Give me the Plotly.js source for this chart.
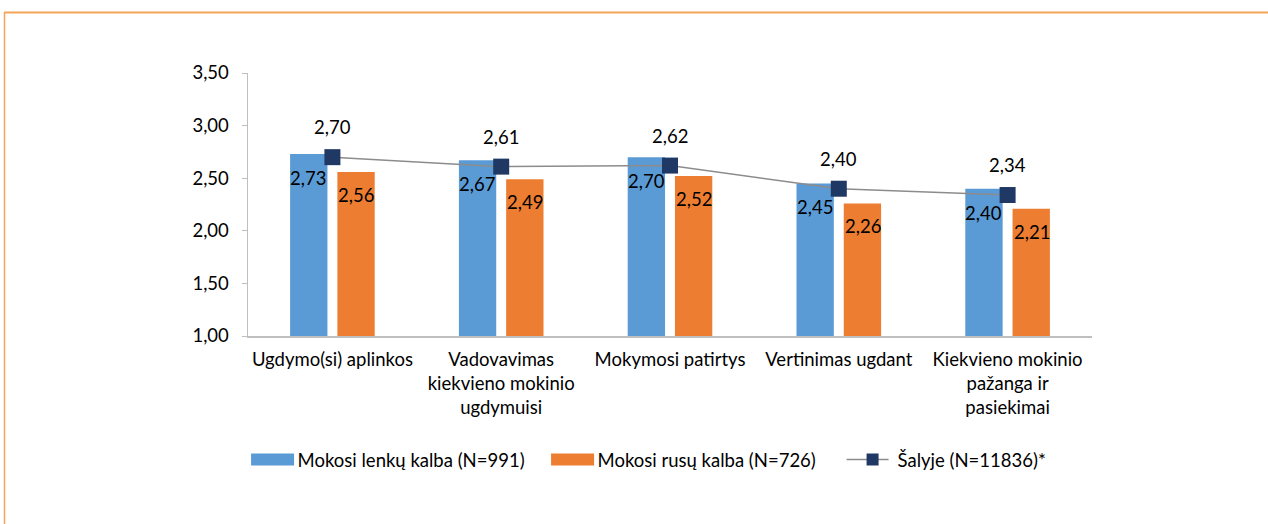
<!DOCTYPE html>
<html>
<head>
<meta charset="utf-8">
<script src="https://cdn.plot.ly/plotly-3.0.1.min.js"></script>
<style>html,body{margin:0;padding:0;background:#fff;}#chart{width:1268px;height:524px;}</style>
</head>
<body>
<div id="chart"></div>
<script>
const categories = ["Ugdymo(si) aplinkos", "Vadovavimas<br>kiekvieno mokinio<br>ugdymuisi", "Mokymosi patirtys", "Vertinimas ugdant", "Kiekvieno mokinio<br>pažanga ir<br>pasiekimai"];
const lenkuValues = [2.73, 2.67, 2.70, 2.45, 2.40];
const rusuValues = [2.56, 2.49, 2.52, 2.26, 2.21];
const salyjeValues = [2.70, 2.61, 2.62, 2.40, 2.34];
const seriesNames = ["Mokosi lenkų kalba (N=991)", "Mokosi rusų kalba (N=726)", "Šalyje (N=11836)*"];
const yTicks = [1.0, 1.5, 2.0, 2.5, 3.0, 3.5];

const FONT = "Lato, 'Liberation Sans', sans-serif";
const FS = 18.5;
const fmt = v => v.toFixed(2).replace('.', ',');

const traces = [
  {type: 'bar', name: seriesNames[0], x: categories, y: lenkuValues.map(v => v - 1), base: 1,
   marker: {color: '#5B9BD5'}, hoverinfo: 'skip'},
  {type: 'bar', name: seriesNames[1], x: categories, y: rusuValues.map(v => v - 1), base: 1,
   marker: {color: '#ED7D31'}, hoverinfo: 'skip'},
  {type: 'scatter', mode: 'lines+markers', name: seriesNames[2], x: categories, y: salyjeValues,
   line: {color: '#8C8C8C', width: 1.5},
   marker: {symbol: 'square', size: 16, color: '#203864'}, hoverinfo: 'skip'}
];

const annotations = [];
categories.forEach((c, i) => {
  annotations.push({x: c, y: lenkuValues[i], text: fmt(lenkuValues[i]), showarrow: false,
    xshift: -24, yshift: -24, font: {size: FS, color: '#000', family: FONT}});
  annotations.push({x: c, y: rusuValues[i], text: fmt(rusuValues[i]), showarrow: false,
    xshift: 24, yshift: -23, font: {size: FS, color: '#000', family: FONT}});
  annotations.push({x: c, y: salyjeValues[i], text: fmt(salyjeValues[i]), showarrow: false,
    xshift: 0, yshift: 30, font: {size: FS, color: '#000', family: FONT}});
});

const L = 248, R = 1092, T = 73, B = 336;
const px2x = p => (p - L) / (R - L);
const px2y = p => (B - p) / (B - T);

const layout = {
  width: 1268, height: 524,
  margin: {l: L, r: 1268 - R, t: T, b: 524 - B},
  paper_bgcolor: '#fff', plot_bgcolor: '#fff',
  separators: ',.',
  font: {family: FONT, size: FS, color: '#000'},
  barmode: 'group', bargap: 0.44, bargroupgap: 0.21,
  showlegend: true,
  legend: {orientation: 'h', x: -0.0005, xanchor: 'left', y: px2y(460), yanchor: 'middle',
    font: {size: FS, family: FONT}, traceorder: 'normal', itemwidth: 40,
    entrywidth: 245, entrywidthmode: 'pixels'},
  xaxis: {type: 'category', showline: true, linecolor: '#BFBFBF', linewidth: 1.5,
    ticks: '', showgrid: false, tickfont: {size: FS, family: FONT}, fixedrange: true,
    ticklabelstandoff: 6},
  yaxis: {range: [1, 3.5], tickvals: yTicks, tickformat: '.2f', showline: true, linecolor: '#BFBFBF',
    linewidth: 1.5, ticks: 'outside', ticklen: 5, tickcolor: '#BFBFBF', showgrid: false, zeroline: false,
    tickfont: {size: FS, family: FONT}, fixedrange: true, ticklabelstandoff: 9},
  annotations: annotations,
  shapes: [
    {type: 'line', xref: 'paper', yref: 'paper', x0: px2x(4), x1: px2x(1270), y0: px2y(12.5), y1: px2y(12.5),
     line: {color: '#F4A55A', width: 2}},
    {type: 'line', xref: 'paper', yref: 'paper', x0: px2x(4.5), x1: px2x(4.5), y0: px2y(12), y1: px2y(526),
     line: {color: '#F4A55A', width: 1.5}}
  ]
};

Plotly.newPlot('chart', traces, layout, {displayModeBar: false, staticPlot: true}).then(gd => {
  // legend swatch styling to match the reference (wide bar swatches, small square marker)
  gd.querySelectorAll('.legend .traces').forEach((tr, i) => {
    if (i < 2) {
      tr.querySelectorAll('.legendpoints path').forEach(p => p.setAttribute('d', 'M21.5,6H-21.5V-6H21.5Z'));
    } else {
      tr.querySelectorAll('.legendlines path').forEach(p => p.setAttribute('d', 'M-1,0h42'));
      tr.querySelectorAll('.legendpoints path.scatterpts').forEach(p => p.setAttribute('d', 'M6,6H-6V-6H6Z'));
    }
  });
});
</script>
</body>
</html>
